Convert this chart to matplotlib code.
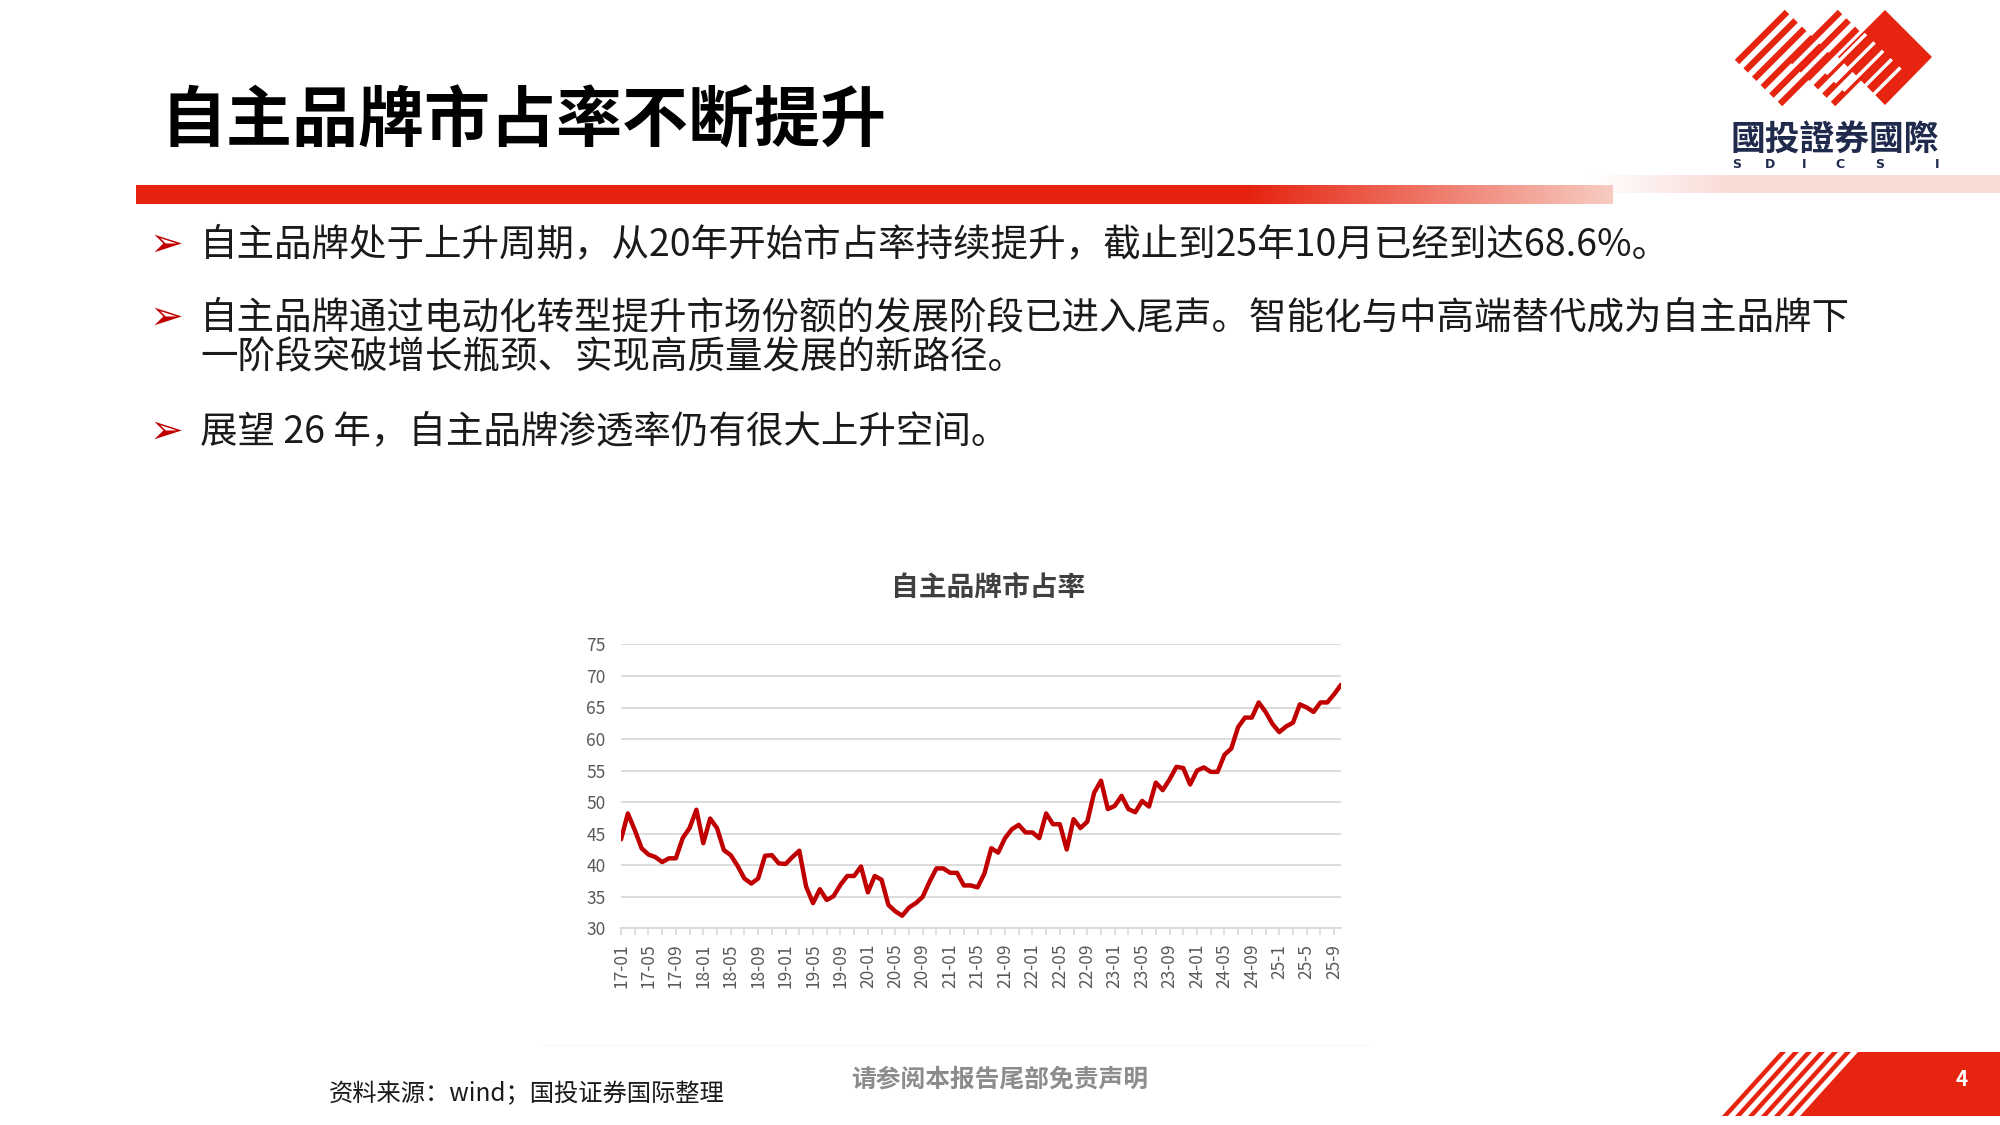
import numpy as np
import matplotlib
matplotlib.use("Agg")
import matplotlib.pyplot as plt
from matplotlib.patches import Polygon

plt.rcParams['font.family'] = ['Noto Sans CJK SC', 'DejaVu Sans']

# 自主品牌市占率 (%), 2017-01 .. 2025-10, monthly
share = [44.1, 48.2, 45.6, 42.7, 41.7, 41.3, 40.5, 41.1, 41.1, 44.3,
         45.9, 48.8, 43.5, 47.4, 45.9, 42.4, 41.6, 39.9, 37.9, 37.1,
         37.9, 41.5, 41.6, 40.3, 40.2, 41.3, 42.3, 36.6, 34.0, 36.2,
         34.5, 35.1, 36.9, 38.3, 38.3, 39.8, 35.7, 38.3, 37.7, 33.7,
         32.7, 32.0, 33.3, 34.0, 35.0, 37.4, 39.5, 39.5, 38.8, 38.8,
         36.8, 36.8, 36.5, 38.7, 42.7, 42.0, 44.3, 45.7, 46.4, 45.2,
         45.2, 44.3, 48.2, 46.5, 46.5, 42.5, 47.3, 45.9, 46.9, 51.5,
         53.4, 48.9, 49.4, 51.0, 48.9, 48.4, 50.2, 49.3, 53.1, 51.9,
         53.6, 55.6, 55.4, 52.8, 55.0, 55.5, 54.8, 54.8, 57.5, 58.5,
         61.9, 63.4, 63.4, 65.8, 64.3, 62.4, 61.1, 62.0, 62.6, 65.5,
         65.0, 64.3, 65.8, 65.8, 67.1, 68.6]

tick_labels = ['17-01', '17-05', '17-09', '18-01', '18-05', '18-09',
               '19-01', '19-05', '19-09', '20-01', '20-05', '20-09',
               '21-01', '21-05', '21-09', '22-01', '22-05', '22-09',
               '23-01', '23-05', '23-09', '24-01', '24-05', '24-09',
               '25-1', '25-5', '25-9']

y_ticks = [30, 35, 40, 45, 50, 55, 60, 65, 70, 75]

title = '自主品牌市占率不断提升'
chart_title = '自主品牌市占率'
bullets = [
    '自主品牌处于上升周期，从20年开始市占率持续提升，截止到25年10月已经到达68.6%。',
    '自主品牌通过电动化转型提升市场份额的发展阶段已进入尾声。智能化与中高端替代成为自主品牌下',
    '一阶段突破增长瓶颈、实现高质量发展的新路径。',
    '展望 26 年，自主品牌渗透率仍有很大上升空间。',
]
source = '资料来源：wind；国投证券国际整理'
disclaimer = '请参阅本报告尾部免责声明'
page_no = '4'

RED = '#E62410'
DARK_RED = '#C00000'

fig = plt.figure(figsize=(20, 11.25), dpi=100)

# overlay in pixel coordinates for the slide decoration
ov = fig.add_axes([0, 0, 1, 1], zorder=0)
ov.set_xlim(0, 2000)
ov.set_ylim(1125, 0)
ov.axis('off')

# title
ov.text(160, 122, title, fontsize=47.5, fontweight='bold', color='black',
        ha='left', va='center')

# red bar with fade at the right end
n = 600
xs = np.linspace(136, 1613, n)
red_rgb = np.array([0.90, 0.14, 0.06])
pink_rgb = np.array([0.97, 0.80, 0.76])
t = np.clip((xs - 1250) / (1613 - 1250), 0, 1)
grad = red_rgb[None, :] * (1 - t[:, None]) + pink_rgb[None, :] * t[:, None]
ov.imshow(grad[None, :, :], extent=[136, 1613, 204, 185], aspect='auto',
          interpolation='bilinear', zorder=1)

# pale pink band at the right
xs2 = np.linspace(1590, 2000, 300)
t2 = np.clip((xs2 - 1590) / 140, 0, 1)
band = np.array([1, 1, 1])[None, :] * (1 - t2[:, None]) + \
    np.array([0.98, 0.86, 0.84])[None, :] * t2[:, None]
ov.imshow(band[None, :, :], extent=[1590, 2000, 193, 175], aspect='auto',
          interpolation='bilinear', zorder=0.5)

# logo: diamond + stripes
ov.add_patch(Polygon([(1885, 10), (1932, 57), (1885, 105), (1838, 57)],
                     closed=True, color=RED, lw=0, zorder=2))
for k in range(6):
    x0, y0 = 1737 + 8.6 * k, 62 + 8.4 * k
    ov.plot([x0, x0 + 50], [y0, y0 - 50], color=RED, lw=4.5,
            solid_capstyle='butt', zorder=2)
for k in range(6):
    x0, y0 = 1790 + 8.6 * k, 62 + 8.4 * k
    ov.plot([x0, x0 + 50], [y0, y0 - 50], color=RED, lw=4.5,
            solid_capstyle='butt', zorder=2)
for k in range(5):
    x0, y0 = 1826 + 8.6 * k, 74 + 8.4 * k
    ov.plot([x0, x0 + 40], [y0, y0 - 40], color='white', lw=2.5,
            solid_capstyle='butt', zorder=3)
ov.text(1835, 140, '國投證券國際', fontsize=25, fontweight='bold',
        color='#1F2A4D', ha='center', va='center',
        family=['Noto Sans CJK TC', 'DejaVu Sans'])
for ch, xp in zip('SDICSI', [1737, 1770, 1804, 1840, 1880, 1937]):
    ov.text(xp, 164, ch, fontsize=9, fontweight='bold', color='#1F2A4D',
            ha='center', va='center', family=['DejaVu Sans'])

# bullets
bullet_y = [245, 318, 358, 432]
for i, (txt, yp) in enumerate(zip(bullets, bullet_y)):
    if i != 2:
        ov.text(166, yp, '➢', fontsize=29, color=DARK_RED, ha='center',
                va='center', family=['DejaVu Sans'])
    ov.text(200, yp, txt, fontsize=27, color='#1A1A1A', ha='left',
            va='center')

# chart title
ov.text(988, 588, chart_title, fontsize=20, fontweight='bold',
        color='#404040', ha='center', va='center')

# footer
ov.plot([540, 1370], [1045, 1045], color='#F8F8F8', lw=0.8)
ov.text(329, 1094, source, fontsize=17.5, color='#1A1A1A', ha='left',
        va='center')
ov.text(1000, 1080, disclaimer, fontsize=17.8, color='#8C8C8C',
        ha='center', va='center', fontweight='bold')
ov.add_patch(Polygon([(1858, 1052), (2000, 1052), (2000, 1116), (1800, 1116)],
                     closed=True, color=RED, lw=0, zorder=2))
for k in range(6):
    xb = 1722 + 13 * k
    ov.add_patch(Polygon([(xb, 1116), (xb + 6, 1116), (xb + 64, 1052),
                          (xb + 58, 1052)], closed=True, color=RED, lw=0,
                         zorder=2))
ov.text(1962, 1080, page_no, fontsize=15, fontweight='bold', color='white',
        ha='center', va='center', zorder=3)

# chart
ax = fig.add_axes([0.3105, 0.1748, 0.36, 0.2524], zorder=2)
ax.set_facecolor('none')
x = np.arange(len(share))
ax.plot(x, share, color=DARK_RED, lw=3.2, solid_joinstyle='round',
        solid_capstyle='round', zorder=3)
ax.set_xlim(0, len(share) - 1)
ax.set_ylim(y_ticks[0], y_ticks[-1])
ax.set_yticks(y_ticks)
ax.set_yticklabels([str(v) for v in y_ticks])
ax.yaxis.grid(True, color='#D9D9D9', lw=1.3)
ax.set_axisbelow(True)
for s in ['top', 'right', 'left']:
    ax.spines[s].set_visible(False)
ax.spines['bottom'].set_color('#D9D9D9')
ax.spines['bottom'].set_linewidth(1.3)
ax.set_xticks(np.arange(len(tick_labels)) * 4)
ax.set_xticklabels(tick_labels, rotation=90)
ax.set_xticks(np.arange(2, len(share), 4), minor=True)
ax.tick_params(axis='x', which='both', length=5, width=1.2, color='#D9D9D9',
               pad=6, labelsize=12.5, labelcolor='#595959')
ax.tick_params(axis='y', length=0, pad=11, labelsize=12.5,
               labelcolor='#595959')

fig.savefig('out.png', dpi=100, facecolor='white')
